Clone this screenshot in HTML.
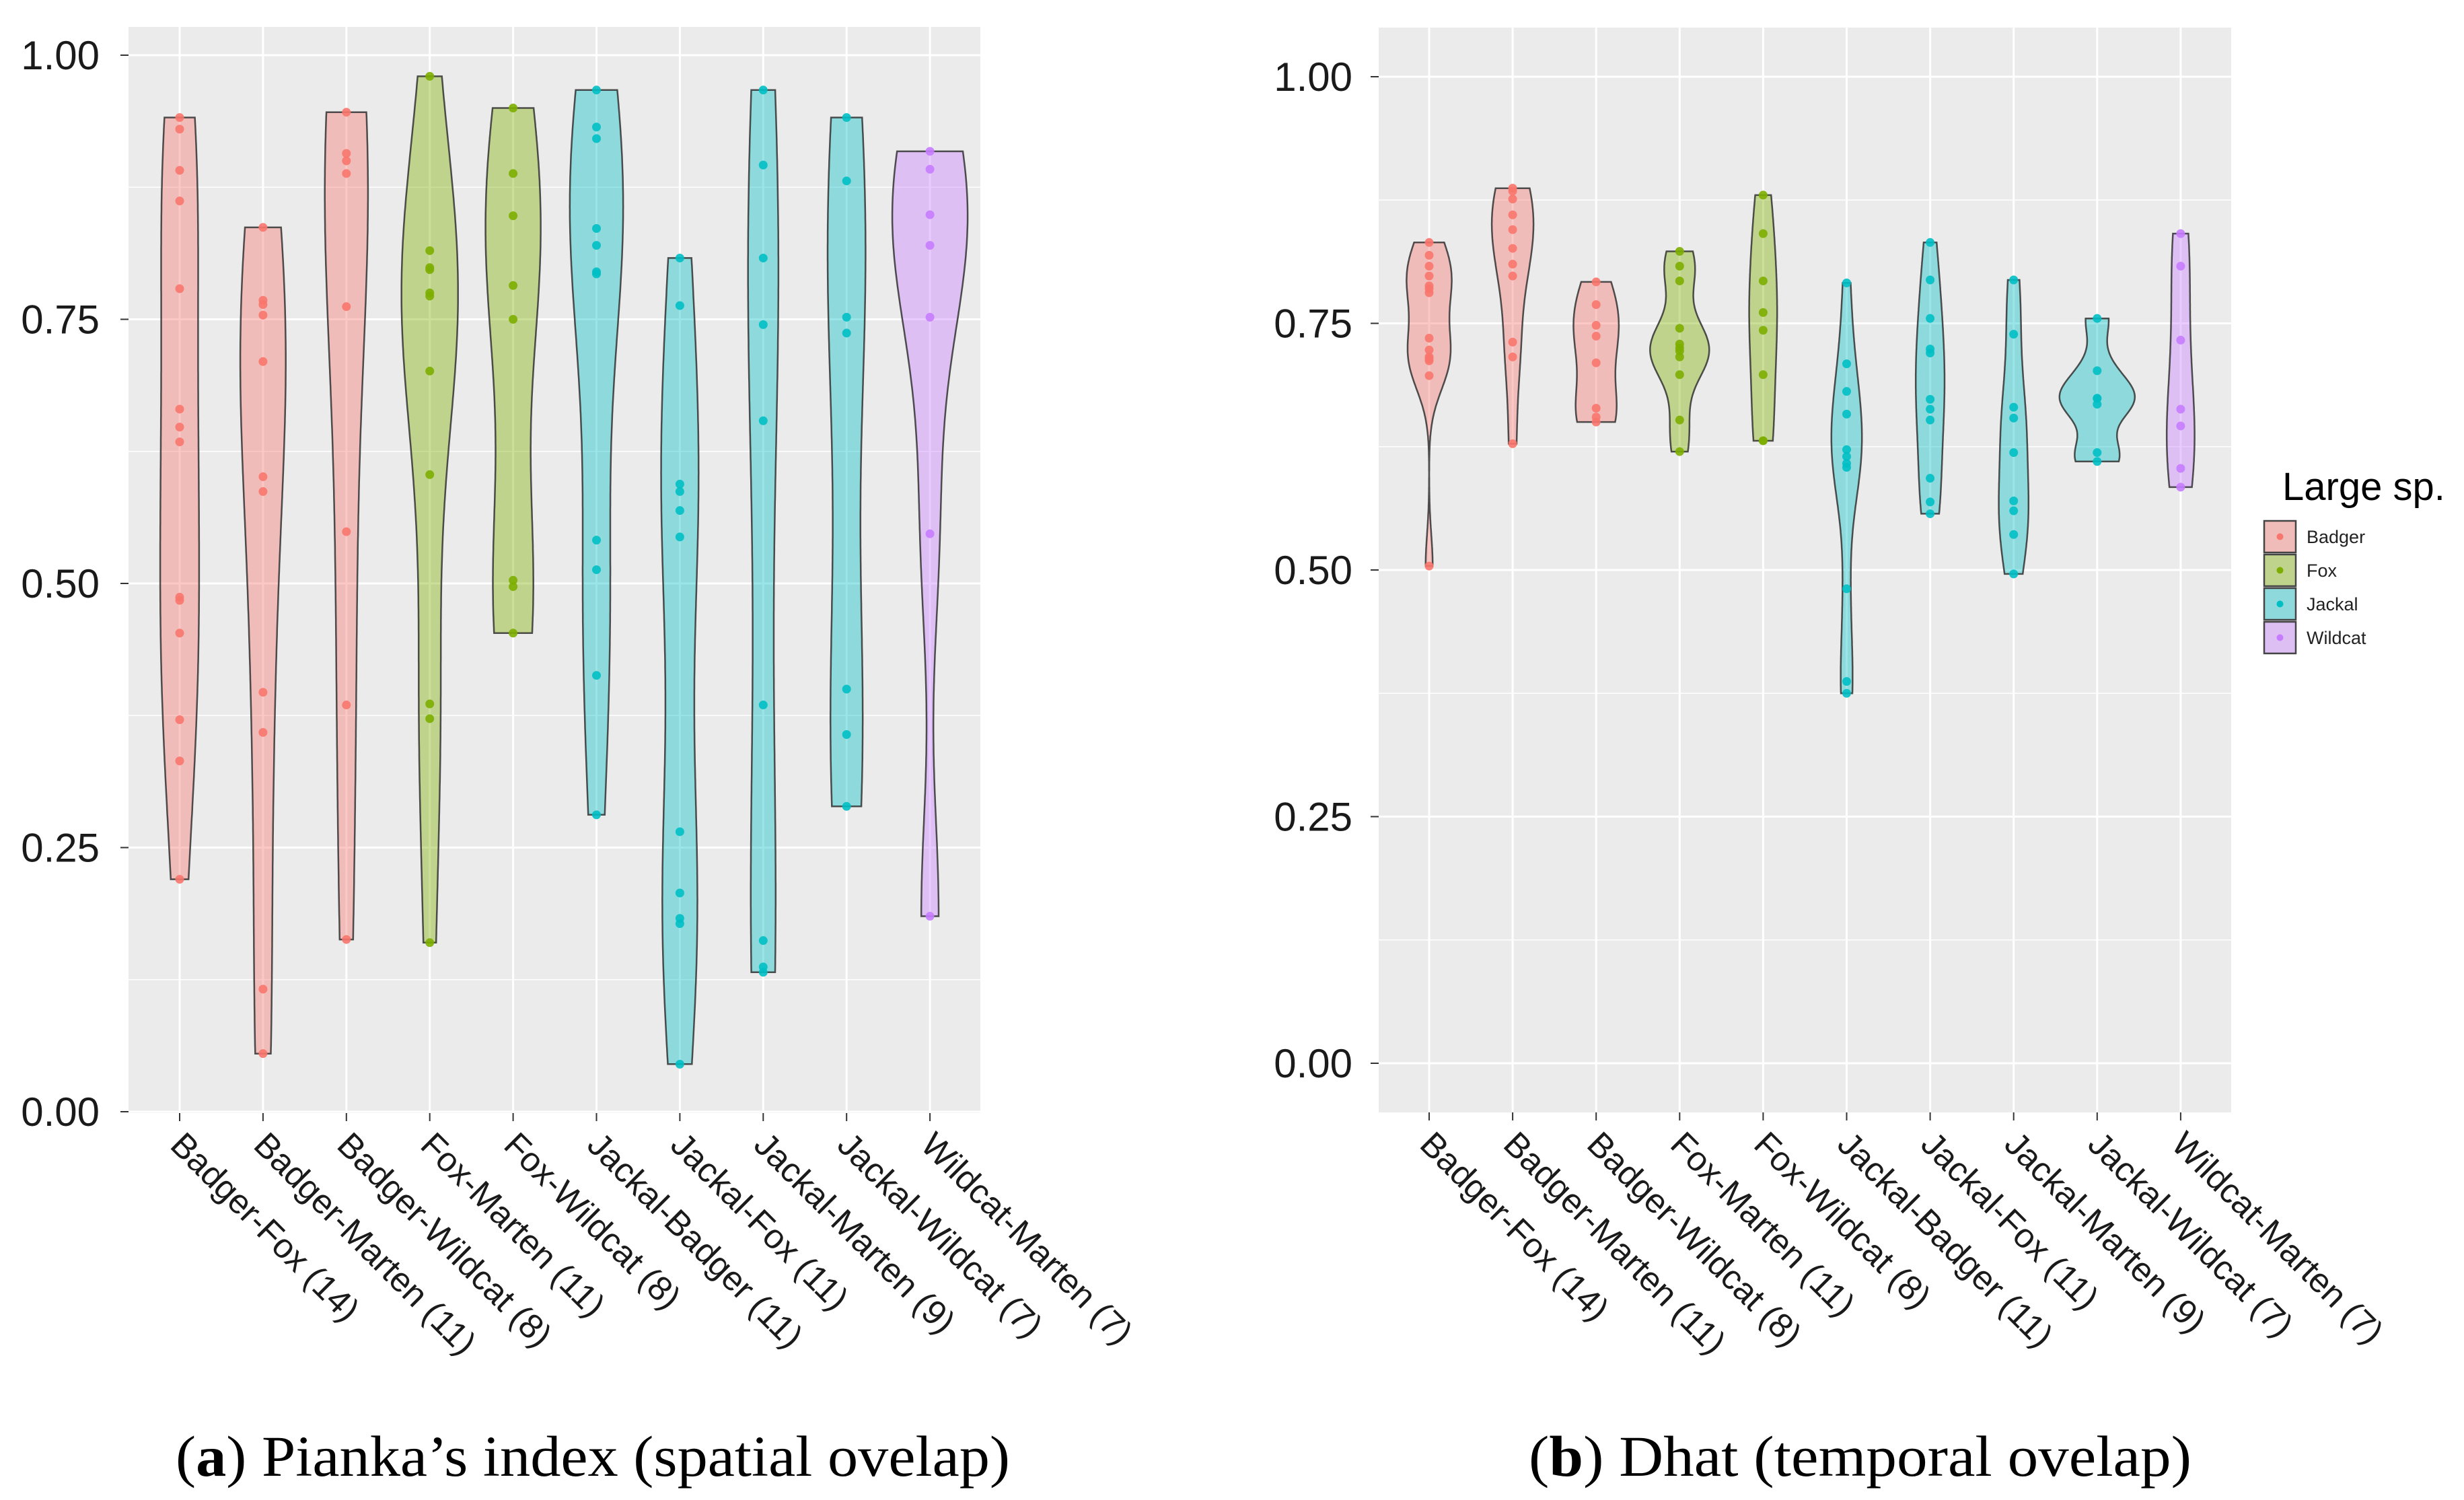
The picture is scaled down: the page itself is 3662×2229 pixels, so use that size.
<!DOCTYPE html>
<html><head><meta charset="utf-8"><style>
html,body{margin:0;padding:0;background:#fff;}
svg{display:block;}
</style></head><body>
<svg id="chart" width="3662" height="2229" viewBox="0 0 3662 2229" xmlns="http://www.w3.org/2000/svg" font-family="'Liberation Sans', sans-serif">
<rect width="3662" height="2229" fill="#fff"/>
<g id="panelA"></g>
<g id="panelB"></g>
<g id="legend"></g>
<text x="261" y="2193" font-family="'Liberation Serif', serif" font-size="86" fill="#000" textLength="1240" lengthAdjust="spacingAndGlyphs">(<tspan font-weight="bold">a</tspan>) Pianka’s index (spatial ovelap)</text>
<text x="2272" y="2193" font-family="'Liberation Serif', serif" font-size="86" fill="#000" textLength="985" lengthAdjust="spacingAndGlyphs">(<tspan font-weight="bold">b</tspan>) Dhat (temporal ovelap)</text>
</svg>
<script>
const NS = "http://www.w3.org/2000/svg";
const categories = ["Badger-Fox (14)","Badger-Marten (11)","Badger-Wildcat (8)","Fox-Marten (11)","Fox-Wildcat (8)","Jackal-Badger (11)","Jackal-Fox (11)","Jackal-Marten (9)","Jackal-Wildcat (7)","Wildcat-Marten (7)"];
const groups = ["Badger","Badger","Badger","Fox","Fox","Jackal","Jackal","Jackal","Jackal","Wildcat"];
const speciesNames = ["Badger","Fox","Jackal","Wildcat"];
const speciesColors = ["#F8766D","#7CAE00","#00BFC4","#C77CFF"];
const yTicks = [0, 0.25, 0.5, 0.75, 1.0];
const yTickLabels = ["0.00","0.25","0.50","0.75","1.00"];

const piankaBadgerFox = [.941,.930,.891,.862,.779,.665,.648,.634,.487,.484,.453,.371,.332,.220];
const piankaBadgerMarten = [.837,.768,.764,.754,.710,.601,.587,.397,.359,.116,.055];
const piankaBadgerWildcat = [.946,.907,.900,.888,.762,.549,.385,.163];
const piankaFoxMarten = [.980,.815,.799,.797,.775,.772,.701,.603,.386,.372,.160];
const piankaFoxWildcat = [.950,.888,.848,.782,.750,.503,.497,.453];
const piankaJackalBadger = [.967,.932,.921,.836,.820,.795,.793,.541,.513,.413,.281];
const piankaJackalFox = [.808,.763,.594,.587,.569,.544,.265,.207,.183,.178,.045];
const piankaJackalMarten = [.967,.896,.808,.745,.654,.385,.162,.137,.132];
const piankaJackalWildcat = [.941,.881,.752,.737,.400,.357,.289];
const piankaWildcatMarten = [.909,.892,.849,.820,.752,.547,.185];

const dhatBadgerFox = [.832,.819,.808,.798,.788,.785,.781,.735,.723,.716,.714,.712,.697,.504];
const dhatBadgerMarten = [.887,.884,.876,.860,.845,.826,.810,.798,.731,.716,.628];
const dhatBadgerWildcat = [.792,.769,.748,.737,.710,.664,.655,.650];
const dhatFoxMarten = [.823,.808,.793,.745,.729,.725,.722,.716,.698,.652,.620];
const dhatFoxWildcat = [.880,.841,.793,.761,.743,.698,.631,.631];
const dhatJackalBadger = [.791,.709,.681,.658,.622,.615,.608,.604,.481,.387,.375];
const dhatJackalFox = [.832,.794,.755,.724,.720,.673,.663,.652,.593,.569,.557];
const dhatJackalMarten = [.794,.739,.665,.654,.619,.570,.560,.536,.496];
const dhatJackalWildcat = [.755,.702,.674,.674,.668,.619,.610];
const dhatWildcatMarten = [.841,.808,.733,.663,.646,.603,.584];

const piankaData = [piankaBadgerFox,piankaBadgerMarten,piankaBadgerWildcat,piankaFoxMarten,piankaFoxWildcat,piankaJackalBadger,piankaJackalFox,piankaJackalMarten,piankaJackalWildcat,piankaWildcatMarten];
const dhatData = [dhatBadgerFox,dhatBadgerMarten,dhatBadgerWildcat,dhatFoxMarten,dhatFoxWildcat,dhatJackalBadger,dhatJackalFox,dhatJackalMarten,dhatJackalWildcat,dhatWildcatMarten];

function el(tag, attrs, parent){const e=document.createElementNS(NS,tag);for(const k in attrs)e.setAttribute(k,attrs[k]);parent.appendChild(e);return e;}
function quantile(s,p){const h=(s.length-1)*p,lo=Math.floor(h),hi=Math.ceil(h);return s[lo]+(s[hi]-s[lo])*(h-lo);}
function bwNrd0(x){const n=x.length,m=x.reduce((a,b)=>a+b,0)/n;const sd=Math.sqrt(x.reduce((a,b)=>a+(b-m)*(b-m),0)/(n-1));const s=[...x].sort((a,b)=>a-b);const iqr=(quantile(s,.75)-quantile(s,.25))/1.34;let lo=Math.min(sd,iqr);if(!(lo>0))lo=sd||Math.abs(s[0])||1;return 0.9*lo*Math.pow(n,-0.2);}
function kde(x){const bw=bwNrd0(x);const mn=Math.min(...x),mx=Math.max(...x);const pts=[];for(let i=0;i<200;i++){const v=mn+(mx-mn)*i/199;let d=0;for(const xi of x){const z=(v-xi)/bw;d+=Math.exp(-0.5*z*z);}d/=x.length*bw*Math.sqrt(2*Math.PI);pts.push([v,d]);}return pts;}

function drawPanel(g, data, o){
  const xOf=i=>o.cx0+i*o.step;
  const yOf=v=>o.y0-(v)*o.unit;
  el('rect',{x:o.left,y:o.top,width:o.right-o.left,height:o.bottom-o.top,fill:'#EBEBEB'},g);
  const grid=el('g',{},g);
  
  
  for(let k=0;k<yTicks.length;k++){
    const yv=yTicks[k];
    if(k<yTicks.length-1){const ym=yOf(yv+0.125);if(ym>o.top)el('line',{x1:o.left,x2:o.right,y1:ym,y2:ym,stroke:'#fff','stroke-width':1.5},grid);}
    el('line',{x1:o.left,x2:o.right,y1:yOf(yv),y2:yOf(yv),stroke:'#fff','stroke-width':3},grid);
  }
  categories.forEach((c,i)=>el('line',{x1:xOf(i),x2:xOf(i),y1:o.top,y2:o.bottom,stroke:'#fff','stroke-width':3},grid));
  const dens=data.map(kde);
  const maxD=Math.max(...dens.map(d=>Math.max(...d.map(p=>p[1]))));
  data.forEach((vals,i)=>{
    const col=speciesColors[speciesNames.indexOf(groups[i])];
    const cx=xOf(i);
    const d=dens[i];
    let path='';
    d.forEach((p,j)=>{path+=(j?'L':'M')+(cx+p[1]/maxD*o.half).toFixed(1)+','+yOf(p[0]).toFixed(1);});
    for(let j=d.length-1;j>=0;j--){const p=d[j];path+='L'+(cx-p[1]/maxD*o.half).toFixed(1)+','+yOf(p[0]).toFixed(1);}
    path+='Z';
    const v=el('path',{d:path,fill:col,'fill-opacity':0.4,stroke:'#333','stroke-width':2.5,'stroke-opacity':0.85},g);
    
    
    vals.forEach(val=>{
      const pt=el('circle',{cx:cx,cy:yOf(val),r:6.5,fill:col,'fill-opacity':0.9},g);
      
      
    });
  });
  yTicks.forEach((yv,k)=>{
    el('line',{x1:o.left-12,x2:o.left,y1:yOf(yv),y2:yOf(yv),stroke:'#333','stroke-width':2},g);
    const t=el('text',{x:o.labelRight,y:yOf(yv)+21,'text-anchor':'end','font-size':60,fill:'#1a1a1a'},g);
    t.textContent=yTickLabels[k];
    
    
  });
  categories.forEach((c,i)=>{
    const x=xOf(i);
    el('line',{x1:x,x2:x,y1:o.bottom,y2:o.bottom+12,stroke:'#333','stroke-width':2},g);
    const t=el('text',{x:0,y:0,'font-size':51,fill:'#1a1a1a','dominant-baseline':'central',transform:`translate(${x-4},${o.bottom+38}) rotate(45)`},g);
    t.textContent=c;
    
    
  });
}

drawPanel(document.getElementById('panelA'), piankaData, {left:191,right:1457,top:40,bottom:1654,cx0:267,step:123.9,y0:1652,unit:1570,half:56,labelRight:148});
drawPanel(document.getElementById('panelB'), dhatData, {left:2049,right:3316,top:41,bottom:1653,cx0:2124,step:124.1,y0:1580,unit:1466,half:56,labelRight:2010});

const lg=document.getElementById('legend');
const title=el('text',{x:3392,y:743,'font-size':58,fill:'#000'},lg);
title.textContent='Large sp.';


speciesNames.forEach((s,i)=>{
  const y=773+i*50;
  const entry=el('g',{},lg);
  
  
  el('rect',{x:3364,y:y,width:49,height:49,fill:'#EBEBEB'},entry);
  el('rect',{x:3365,y:y+1,width:47,height:47,fill:speciesColors[i],'fill-opacity':0.4,stroke:'#444','stroke-width':2.5},entry);
  el('circle',{cx:3388.5,cy:y+24.5,r:5,fill:speciesColors[i]},entry);
  const t=el('text',{x:3428,y:y+34,'font-size':27,fill:'#222'},entry);
  t.textContent=s;
});
</script>
</body></html>
